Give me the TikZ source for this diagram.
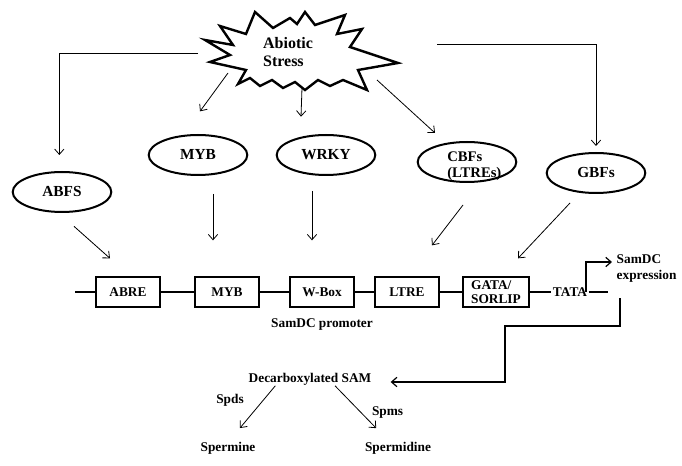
\documentclass[tikz,border=0pt]{standalone}
\usepackage{fontspec}
\setmainfont{Liberation Serif}
\usetikzlibrary{shapes.geometric, arrows.meta, positioning}

\begin{document}
\begin{tikzpicture}[x=0.75pt, y=-0.75pt, >={Straight Barb[length=4pt, width=7pt]},
  every node/.style={font=\bfseries\fontsize{10}{12}\selectfont},
  tf/.style={ellipse, draw, line width=1.5pt, minimum width=74pt, minimum height=30pt, font=\bfseries\fontsize{11.5}{12}\selectfont},
  site/.style={rectangle, draw, line width=1.5pt, minimum width=48pt, minimum height=22pt},
  link/.style={->, line width=0.6pt}]
\useasboundingbox (0,0) rectangle (682,466);

% abiotic stress burst
\draw [line width=1.8pt] (205,40) -- (233,45) -- (220,26) -- (246,34) -- (255,12) -- (273,28) -- (290,18) -- (297,24) -- (305,12) -- (315,25) -- (345,15) -- (337,34) -- (362,29) -- (350,47) -- (398,63) -- (358,70) -- (367,90) -- (343,80) -- (330,86) -- (318,80) -- (305,90) -- (295,82) -- (283,88) -- (272,80) -- (260,86) -- (250,78) -- (238,84) -- (246,70) -- (210,62) -- (230,55) -- cycle;
\node (stress) [align=left, font=\bfseries\fontsize{12}{14}\selectfont] at (288,52) {Abiotic\\Stress};
\coordinate (s1) at (198,53);
\coordinate (s2) at (228,73);
\coordinate (s3) at (302,88);
\coordinate (s4) at (377,80);
\coordinate (s5) at (437,44);

% transcription factors
\node (abfs) [tf] at (62,192) {ABFS};
\node (myb) [tf] at (198,155) {MYB};
\node (wrky) [tf] at (326,155) {WRKY};
\node (cbfs) [tf, label={[align=left, xshift=5.5pt, yshift=-3pt, font=\bfseries\fontsize{11}{12}\selectfont]center:{CBFs\\(LTREs)}}] at (467,162) {};
\node (gbfs) [tf] at (596,173) {GBFs};

\draw [link] (s1) -| ([xshift=-2pt,yshift=12pt]abfs.north);
\draw [link] (s2) -- ([xshift=1.5pt,yshift=17pt]myb.north);
\draw [link] (s3) -- ([xshift=-18.75pt,yshift=13pt]wrky.north);
\draw [link] (s4) -- ([xshift=-24pt,yshift=6pt]cbfs.north);
\draw [link] (s5) -| ([yshift=4.5pt]gbfs.north);

% promoter
\coordinate (pstart) at (75,292);
\coordinate (pend) at (608,292);
\node (abre) [site] at (128,292) {ABRE};
\node (mybsite) [site] at (227,292) {MYB};
\node (wbox) [site] at (322,292) {W-Box};
\node (ltre) [site] at (407,292) {LTRE};
\node (gata) [site, align=left, inner sep=1pt, minimum width=49pt, font=\bfseries\fontsize{10}{10.5}\selectfont] at (496,292) {GATA/\\SORLIP};
\node (tata) [inner sep=1pt] at (570,292) {TATA};
\node (promoter) at (322,325) {SamDC promoter};
\draw [line width=0.9pt] (pstart) -- (abre) -- (mybsite) -- (wbox) -- (ltre) -- (gata) -- (tata) -- (pend);

\draw [link] ([xshift=9pt,yshift=-10pt]abfs.south) -- ([xshift=-13.5pt,yshift=13.5pt]abre.north);
\draw [link] ([xshift=11.25pt,yshift=-13.5pt]myb.south) -- ([xshift=-10.5pt,yshift=27pt]mybsite.north);
\draw [link] ([xshift=-10.5pt,yshift=-11.25pt]wrky.south) -- ([xshift=-7.5pt,yshift=27pt]wbox.north);
\draw [link] ([xshift=-3pt,yshift=-16.5pt]cbfs.south) -- ([xshift=18.75pt,yshift=23.25pt]ltre.north);
\draw [link] ([xshift=-19.5pt,yshift=-6.75pt]gbfs.south) -- ([xshift=16.5pt,yshift=13.5pt]gata.north);

% expression and products
\coordinate (tss) at (586,292);
\coordinate (bend) at (505,326);
\node (expr) [anchor=north west, align=left] at (612,250) {SamDC\\expression};
\node (dsam) at (310,379) {Decarboxylated SAM};
\node (spermine) at (228,448) {Spermine};
\node (spermidine) at (398,448) {Spermidine};

\draw [->, line width=0.9pt] (tss) |- ([yshift=4.9pt]expr.west);
\draw [->, line width=0.9pt, shorten >=11pt] ([xshift=6pt,yshift=-8.25pt]expr.south west) |- (bend) |- ([yshift=-2.25pt]dsam.east);
\draw [link, shorten >=9pt] ([xshift=-26pt,yshift=3pt]dsam.south) -- node[pos=0.28, left=11pt] {Spds} ([xshift=3.2pt]spermine.north);
\draw [link, shorten >=9.5pt] ([xshift=18.75pt,yshift=3pt]dsam.south) -- node[pos=0.51, right=5pt] {Spms} ([xshift=-9.75pt]spermidine.north);
\end{tikzpicture}
\end{document}
